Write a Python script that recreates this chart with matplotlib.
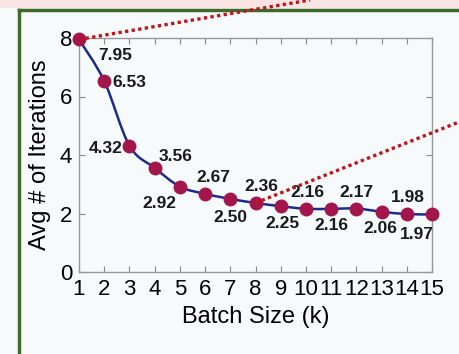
import matplotlib
matplotlib.use('Agg')
import matplotlib.pyplot as plt
from matplotlib.path import Path
from matplotlib.patches import PathPatch, ConnectionPatch, Rectangle
from matplotlib.lines import Line2D
from matplotlib import font_manager

# Data
batch_size = [1, 2, 3, 4, 5, 6, 7, 8, 9, 10, 11, 12, 13, 14, 15]
avg_iters = [7.95, 6.53, 4.32, 3.56, 2.92, 2.67, 2.50, 2.36, 2.25, 2.16, 2.16, 2.17, 2.06, 1.98, 1.97]
value_labels = ['7.95', '6.53', '4.32', '3.56', '2.92', '2.67', '2.50', '2.36',
                '2.25', '2.16', '2.16', '2.17', '2.06', '1.98', '1.97']

# label offsets (pixels) and alignment for each value label
label_offsets = [(19, -16, 'left'), (8, -2, 'left'), (-7, -3, 'right'), (4, 11, 'left'),
                 (-3, -17, 'right'), (8, 16, 'center'), (0, -19, 'center'), (6, 16, 'center'),
                 (2, -17, 'center'), (1, 16, 'center'), (0, -17, 'center'), (0, 16, 'center'),
                 (-1, -17, 'center'), (1, 17, 'center'), (-15, -20, 'center')]

names = {f.name for f in font_manager.fontManager.ttflist}
narrow = 'Liberation Sans Narrow' if 'Liberation Sans Narrow' in names else 'Liberation Sans'
plt.rcParams['font.family'] = [narrow, 'DejaVu Sans']

fig = plt.figure(figsize=(4.59, 3.54), dpi=100)
fig.patch.set_facecolor('#f7fafb')
ax = fig.add_axes([79 / 459, 82 / 354, 353 / 459, 234 / 354])
ax.set_facecolor('#f7fafb')

# decorative frame from the source figure
fig.add_artist(Rectangle((0, 346 / 354), 1, 8 / 354, transform=fig.transFigure,
                         facecolor='#fbe4e4', edgecolor='none', zorder=0))
fig.add_artist(Line2D([18.5 / 459, 18.5 / 459], [0, 344 / 354], transform=fig.transFigure,
                      color='#3f6a2c', lw=2.5))
fig.add_artist(Line2D([18.5 / 459, 1], [344 / 354, 344 / 354], transform=fig.transFigure,
                      color='#3f6a2c', lw=2.5))

# smooth curve through the points (Catmull-Rom -> cubic Bezier)
verts = [(batch_size[0], avg_iters[0])]
codes = [Path.MOVETO]
n = len(batch_size)
for i in range(n - 1):
    x0, y0 = batch_size[max(i - 1, 0)], avg_iters[max(i - 1, 0)]
    x1, y1 = batch_size[i], avg_iters[i]
    x2, y2 = batch_size[i + 1], avg_iters[i + 1]
    x3, y3 = batch_size[min(i + 2, n - 1)], avg_iters[min(i + 2, n - 1)]
    verts += [(x1 + (x2 - x0) / 6, y1 + (y2 - y0) / 6),
              (x2 - (x3 - x1) / 6, y2 - (y3 - y1) / 6),
              (x2, y2)]
    codes += [Path.CURVE4] * 3
ax.add_patch(PathPatch(Path(verts, codes), facecolor='none', edgecolor='#1c2a8c', lw=1.8, zorder=3))
ax.plot(batch_size, avg_iters, linestyle='none', marker='o', markersize=9,
        color='#a3164c', zorder=4, clip_on=False)

for x, y, txt, (dx, dy, ha) in zip(batch_size, avg_iters, value_labels, label_offsets):
    ax.annotate(txt, (x, y), xytext=(dx, dy), textcoords='offset pixels',
                ha=ha, va='center', fontsize=12.5, fontweight='bold', color='#1a1a1a', zorder=5)

# dotted callout lines
for idx, end in [(0, (310 / 459, 1.0)), (7, (1.0, 232 / 354))]:
    con = ConnectionPatch(xyA=(batch_size[idx], avg_iters[idx]), coordsA=ax.transData,
                          xyB=end, coordsB=fig.transFigure, color='#c0141c',
                          linestyle=(0, (1, 1)), lw=2.4, capstyle='butt', zorder=6)
    fig.add_artist(con)

ax.set_xlim(1, 15)
ax.set_ylim(0, 8)
ax.set_xticks(batch_size)
ax.set_yticks([0, 2, 4, 6, 8])
ax.tick_params(direction='in', top=True, right=True, length=4, width=0.8,
               color='#888888', labelsize=16, pad=5)
for s in ax.spines.values():
    s.set_color('#999999')
    s.set_linewidth(1.0)
ax.set_xlabel('Batch Size (k)', fontsize=17, labelpad=4)
ax.set_ylabel('Avg # of Iterations', fontsize=17, labelpad=6)

fig.savefig('out.png', dpi=100, facecolor=fig.get_facecolor())
